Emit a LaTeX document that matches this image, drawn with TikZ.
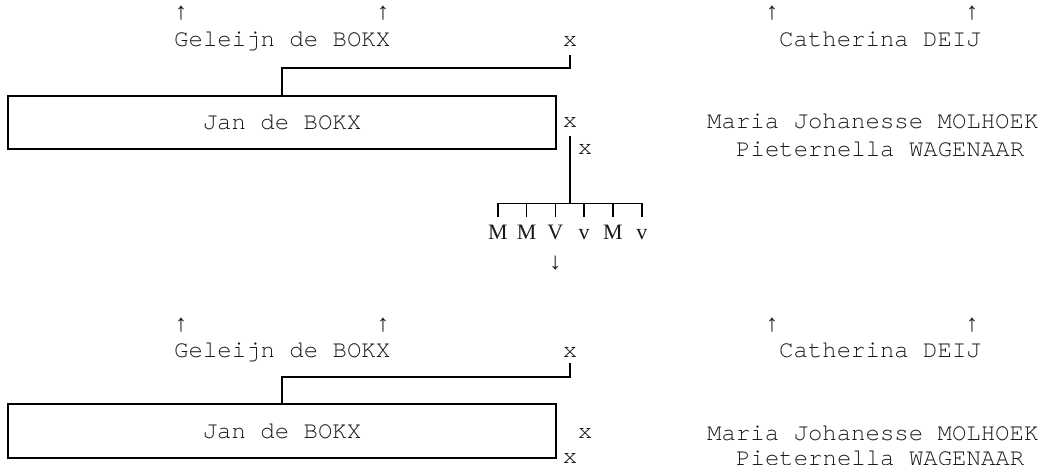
\documentclass[tikz,border=0pt]{standalone}
\usepackage{fontspec}
\newfontfamily\monof{TeX Gyre Cursor}
\newfontfamily\arrf{Liberation Mono}
\newfontfamily\seriff{Liberation Serif}
\newcommand{\mono}{\monof\fontsize{24}{28}\selectfont}
\newcommand{\arrowfont}{\arrf\fontsize{24}{28}\selectfont}
\newcommand{\kidf}{\seriff\fontsize{22}{26}\selectfont}
\begin{document}
\begin{tikzpicture}[x=1pt,y=-1pt,
  txt/.style={font=\mono, inner sep=0pt, anchor=base west, text=black!90},
  mk/.style={font=\mono, inner sep=0pt, anchor=base, text=black!90},
  arr/.style={font=\arrowfont, inner sep=0pt, anchor=center, text=black!90},
  kid/.style={font=\kidf, inner sep=0pt, anchor=base, text height=14pt, text depth=0pt, text=black!90},
  person/.style={draw, line width=1.6pt, font=\mono, minimum width=548pt, inner sep=0pt, text=black!90},
  link/.style={line width=1.6pt}]
\useasboundingbox (0,0) rectangle (1040,465);
% ---------- block 1 ----------
\node[arr] (a1) at (181,13) {↑};
\node[arr] (a2) at (383,13) {↑};
\node[arr] (a3) at (772,13) {↑};
\node[arr] (a4) at (972,13) {↑};
\node[txt] (fa1) at (174,47) {Geleijn de BOKX};
\node[mk] (m0) at (570,47) {x};
\node[txt] (mo1) at (779,47) {Catherina DEIJ};
\node[person, minimum height=53pt] (jan1) at (282,122.5) {Jan de BOKX};
\node[mk] (m1) at (570,128) {x};
\node[txt] (w1) at (707,129) {Maria Johanesse MOLHOEK};
\node[mk] (m2) at (585,155) {x};
\node[txt] (w2) at (736,157) {Pieternella WAGENAAR};
\node[kid] (c1) at (497.8,239) {M};
\node[kid] (c2) at (526.6,239) {M};
\node[kid] (c3) at (555.4,239) {V};
\node[kid] (c4) at (584.2,239) {v};
\node[kid] (c5) at (613,239) {M};
\node[kid] (c6) at (641.8,239) {v};
\node[arr] (dn) at (555.4,263) {↓};
\coordinate (bar) at (570,203.5);
\draw[link] ([yshift=-8pt]m0.south) -- ++(0,13) -| (jan1.north);
\draw[link] ([yshift=-8pt]m1.south) -- (bar);
\draw[link] ([yshift=8pt]c1.north) |- (bar) -| ([yshift=8pt]c6.north);
\foreach \k in {c2,c3,c4,c5} \draw[link] ([yshift=8pt]\k.north) -- (\k.north |- bar);
% ---------- block 2 ----------
\node[arr] (a5) at (181,325) {↑};
\node[arr] (a6) at (383,325) {↑};
\node[arr] (a7) at (772,325) {↑};
\node[arr] (a8) at (972,325) {↑};
\node[txt] (fa2) at (174,357) {Geleijn de BOKX};
\node[mk] (m3) at (570,357) {x};
\node[txt] (mo2) at (779,357) {Catherina DEIJ};
\node[person, minimum height=54pt] (jan2) at (282,431) {Jan de BOKX};
\node[mk] (m4) at (585,438) {x};
\node[txt] (w3) at (707,440) {Maria Johanesse MOLHOEK};
\node[mk] (m5) at (570,463) {x};
\node[txt] (w4) at (736,465) {Pieternella WAGENAAR};
\draw[link] ([yshift=-6pt]m3.south) -- ++(0,14) -| (jan2.north);
\end{tikzpicture}
\end{document}
